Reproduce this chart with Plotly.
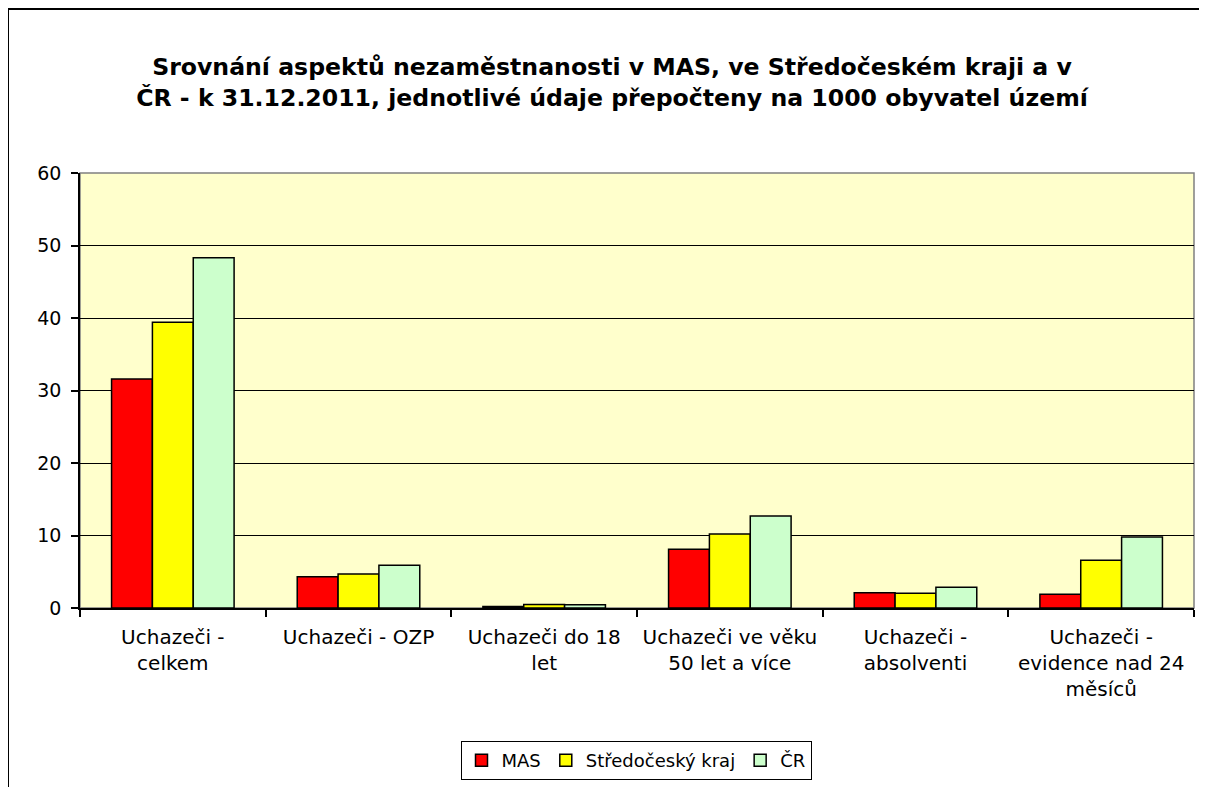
import plotly.graph_objects as go

categories = [
    "Uchazeči -<br>celkem",
    "Uchazeči - OZP",
    "Uchazeči do 18<br>let",
    "Uchazeči ve věku<br>50 let a více",
    "Uchazeči -<br>absolventi",
    "Uchazeči -<br>evidence nad 24<br>měsíců",
]
series_names = ["MAS", "Středočeský kraj", "ČR"]
mas = [31.6, 4.3, 0.2, 8.1, 2.1, 1.9]
stredocesky = [39.4, 4.7, 0.5, 10.2, 2.05, 6.6]
cr = [48.3, 5.9, 0.45, 12.7, 2.85, 9.8]
series_values = [mas, stredocesky, cr]
colors = ["#FF0000", "#FFFF00", "#CCFFCC"]
y_ticks = [0, 10, 20, 30, 40, 50, 60]

title_text = ("Srovnání aspektů nezaměstnanosti v MAS, ve Středočeském kraji a v<br>"
              "ČR - k 31.12.2011, jednotlivé údaje přepočteny na 1000 obyvatel území")

FONT = "DejaVu Sans, Verdana, sans-serif"

fig = go.Figure()
for name, vals, col in zip(series_names, series_values, colors):
    fig.add_trace(go.Bar(
        x=categories, y=vals, name=name,
        marker=dict(color=col, line=dict(color="black", width=1.5)),
    ))

# page body has an 8px margin: figure coordinates = screenshot - 8
W, H = 1199, 779
L, R, T, B = 72, 13, 165, 179
pw, ph = W - L - R, H - T - B

def px_x(px):
    return (px - 8 - L) / pw

def px_y(py):
    return (H - B - (py - 8)) / ph

fig.update_layout(
    width=W, height=H,
    margin=dict(l=L, r=R, t=T, b=B),
    paper_bgcolor="white",
    plot_bgcolor="#FFFFCC",
    font=dict(family=FONT, color="black", size=19),
    title=dict(
        text=title_text,
        x=(612 - 8) / W, xanchor="center", xref="container",
        y=1 - 67 / H, yanchor="top", yref="container",
        font=dict(family=FONT, size=23.6, color="black", weight="bold"),
    ),
    barmode="group",
    bargap=0.34,
    bargroupgap=0,
    showlegend=True,
    legend=dict(
        orientation="h", x=(636 - 8) / W, xanchor="center", xref="container",
        y=1 - (741 - 8) / H, yanchor="top", yref="container",
        bordercolor="black", borderwidth=1,
        font=dict(family=FONT, size=18, color="black"),
        itemwidth=30, traceorder="normal",
        bgcolor="white",
    ),
    xaxis=dict(
        showline=True, linecolor="black", linewidth=1.5,
        ticks="outside", tickson="boundaries", ticklen=7, tickcolor="black", tickwidth=1.5,
        tickfont=dict(family=FONT, size=20, color="black"),
        showgrid=False, ticklabelstandoff=10, automargin=False,
    ),
    yaxis=dict(
        range=[0, 60], tickvals=y_ticks,
        showgrid=True, gridcolor="black", gridwidth=1,
        showline=True, linecolor="black", linewidth=1.5,
        ticks="outside", ticklen=7, tickcolor="black", tickwidth=1.5,
        tickfont=dict(family=FONT, size=19, color="black"),
        zeroline=False, ticklabelstandoff=6, automargin=False,
    ),
    shapes=[
        dict(type="rect", xref="paper", yref="paper", x0=0, x1=1, y0=0, y1=1,
             line=dict(color="#808080", width=1.5), layer="below"),
        dict(type="rect", xref="paper", yref="paper",
             x0=px_x(8), x1=px_x(1240), y0=px_y(830), y1=px_y(9),
             line=dict(color="black", width=2), layer="above"),
    ],
)

fig.write_html("out.html")
